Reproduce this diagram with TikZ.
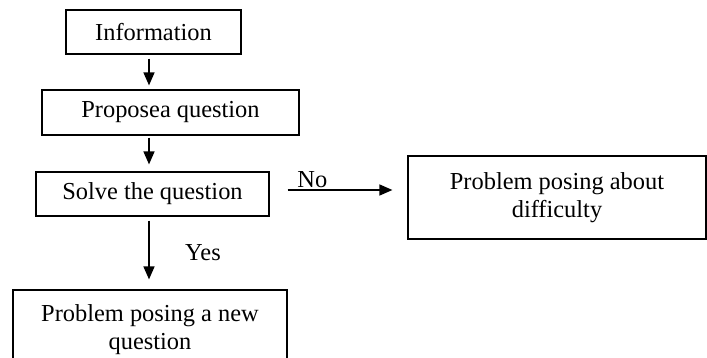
\documentclass[tikz,border=0pt]{standalone}
\usepackage{fontspec}
\setmainfont{Liberation Serif}
\usetikzlibrary{arrows.meta}
\begin{document}
\begin{tikzpicture}[x=0.5pt,y=-0.5pt,
  box/.style={draw, line width=0.6pt, rectangle, inner sep=0pt, align=center,
    font=\fontsize{12.2}{14}\selectfont},
  conn/.style={line width=0.75pt, -{Triangle[length=6.5pt,width=5.5pt]}},
  lbl/.style={font=\fontsize{12.2}{14}\selectfont, inner sep=0pt}]
\useasboundingbox (0,0) rectangle (707,358);
\begin{scope}
\clip (0,0) rectangle (707,358);
\node[box, minimum width=87.5pt, minimum height=22pt] (info) at (153.5,32) {Information};
\node[box, minimum width=128.5pt, minimum height=22.5pt] (prop) at (170.5,112.5) {Proposea question};
\node[box, minimum width=116.5pt, minimum height=22pt] (solve) at (152.5,194) {Solve the question};
\node[box, minimum width=149pt, minimum height=41.5pt] (diff) at (557,197.5) {Problem posing about\\difficulty};
\node[box, minimum width=137pt, minimum height=40pt] (new) at (150,330) {Problem posing a new\\question};
\coordinate (ax) at (149,0);
\coordinate (ny) at (0,190);
\draw[conn, shorten <=2pt, shorten >=2pt] (info.south -| ax) -- (prop.north -| ax);
\draw[conn, shorten <=1pt, shorten >=3.5pt] (prop.south -| ax) -- (solve.north -| ax);
\draw[conn, shorten <=2pt, shorten >=5pt] (solve.south -| ax) -- (new.north -| ax);
\draw[conn, shorten <=9pt, shorten >=7.5pt] (solve.east |- ny) -- (diff.west |- ny);
\node[lbl, anchor=base west] (no) at (297,187) {No};
\node[lbl] (yes) at (203,253) {Yes};
\end{scope}
\end{tikzpicture}
\end{document}
